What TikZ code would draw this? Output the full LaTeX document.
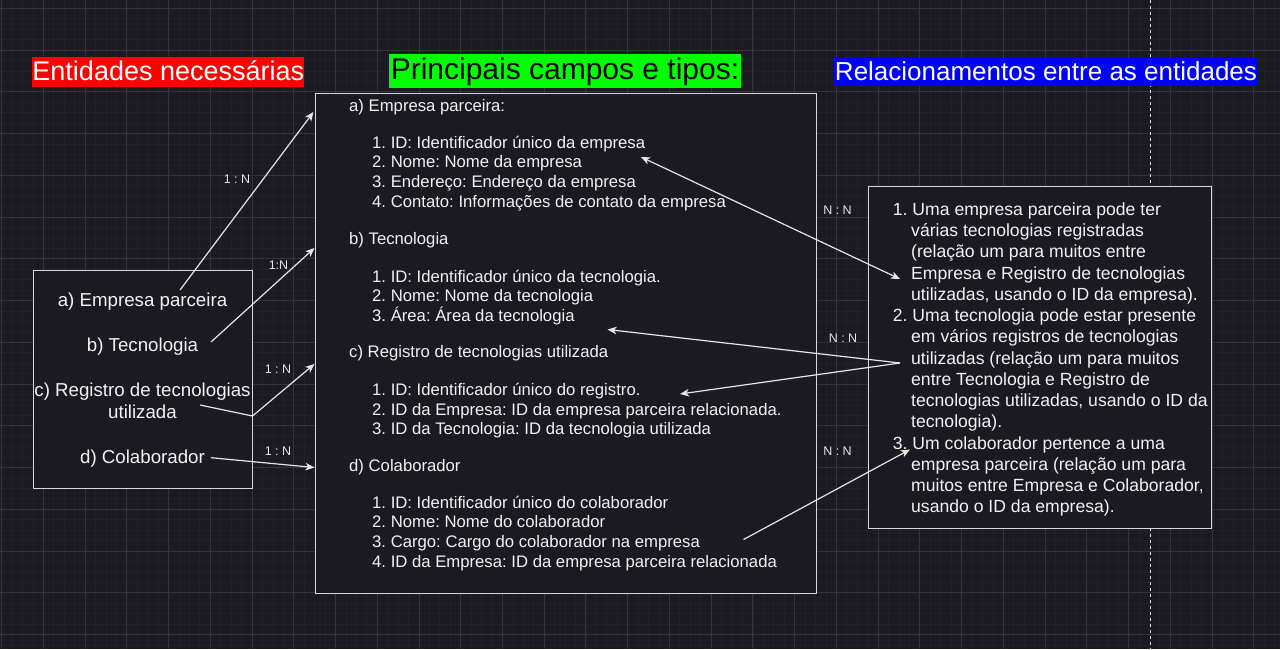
\documentclass[tikz,border=0pt]{standalone}
\usepackage{fontspec}
\setmainfont{Liberation Sans}
\usetikzlibrary{arrows.meta}
\definecolor{bg}{HTML}{1B1921}
\definecolor{gridmin}{HTML}{221F28}
\definecolor{gridmaj}{HTML}{35323C}
\definecolor{fg}{HTML}{F2F2F2}
\definecolor{edgec}{HTML}{D9D9D9}
\definecolor{linec}{HTML}{E6E6E6}
\definecolor{tred}{HTML}{FF0000}
\definecolor{tgreen}{HTML}{00FF00}
\definecolor{tblue}{HTML}{0000FF}
\frenchspacing
\begin{document}
\frenchspacing
\begin{tikzpicture}[x=1pt,y=-1pt,
  box/.style={draw=edgec,fill=bg,line width=1.3pt,inner sep=0pt,anchor=north west},
  mtext/.style={anchor=west,inner sep=0pt,text=fg,font=\fontsize{16.7}{20}\selectfont,text height=14pt,text depth=4pt},
  ltext/.style={anchor=center,inner sep=0pt,text=fg,font=\fontsize{18.7}{22.5}\selectfont,text height=15.7pt,text depth=4.5pt},
  rtext/.style={anchor=west,inner sep=0pt,text=fg,font=\fontsize{17.6}{21}\selectfont,text height=14.8pt,text depth=4.2pt},
  rel/.style={inner sep=0pt,text=linec,font=\fontsize{12.5}{15}\selectfont},
  conn/.style={draw=linec,line width=1.2pt},
  tip/.style={-{Stealth[length=9pt,width=7.5pt,inset=2.5pt]}},
  bitip/.style={{Stealth[length=9pt,width=7.5pt,inset=2.5pt]}-{Stealth[length=9pt,width=7.5pt,inset=2.5pt]}},
  title/.style={inner xsep=0pt,inner ysep=0pt,anchor=center}
]
\useasboundingbox (0,0) rectangle (1280,649);
\fill[bg] (0,0) rectangle (1280,649);
% grid
\foreach \k in {0,...,122} {\draw[gridmin,line width=0.6pt] ({1.5+10.435*\k},0) -- ++(0,649);}
\foreach \k in {-1,...,62} {\draw[gridmin,line width=0.6pt] (0,{8.3+10.435*\k}) -- ++(1280,0);}
\foreach \k in {0,...,30} {\draw[gridmaj,line width=0.8pt] ({1.5+41.74*\k},0) -- ++(0,649);}
\foreach \k in {0,...,15} {\draw[gridmaj,line width=0.8pt] (0,{8.3+41.74*\k}) -- ++(1280,0);}
\draw[edgec!80,line width=0.8pt,dash pattern=on 3pt off 3pt] (1150.5,0) -- (1150.5,649);

% titles
\node[title,fill=tred,text=white,minimum width=272pt,minimum height=29.4pt,
  font=\fontsize{27}{32}\selectfont,text height=23pt,text depth=6pt] (t1) at (168.3,72) {Entidades necessárias};
\node[title,fill=tgreen,text=black,minimum width=352pt,minimum height=34pt,
  font=\fontsize{30}{36}\selectfont,text height=25.5pt,text depth=8pt] (t2) at (565,71) {Principais campos e tipos:};
\node[title,fill=tblue,text=white,minimum width=424pt,minimum height=28pt,
  font=\fontsize{26}{31}\selectfont,text height=22pt,text depth=6pt] (t3) at (1046,72) {Relacionamentos entre as entidades};

% boxes
\node[box,minimum width=219pt,minimum height=218pt] (left) at (33,270) {};
\node[box,minimum width=501pt,minimum height=500pt] (mid) at (315,93) {};
\node[box,minimum width=343pt,minimum height=342pt] (right) at (868,186) {};

% left texts
\node[ltext] (la) at (142.5,300.7) {a) Empresa parceira};
\node[ltext] (lb) at (142.5,345.7) {b) Tecnologia};
\node[ltext] (lc1) at (142.5,390.7) {c) Registro de tecnologias};
\node[ltext] (lc2) at (142.5,413.3) {utilizada};
\node[ltext] (ld) at (142.5,458.3) {d) Colaborador};

% middle texts
\node[mtext] (ma) at (349,106.5) {a) Empresa parceira:};
\node[mtext] (ma1) at (372,143) {1. ID: Identificador único da empresa};
\node[mtext] (ma2) at (372,162.7) {2. Nome: Nome da empresa};
\node[mtext] (ma3) at (372,182.4) {3. Endereço: Endereço da empresa};
\node[mtext] (ma4) at (372,202) {4. Contato: Informações de contato da empresa};
\node[mtext] (mb) at (349,239.5) {b) Tecnologia};
\node[mtext] (mb1) at (372,277) {1. ID: Identificador único da tecnologia.};
\node[mtext] (mb2) at (372,296.5) {2. Nome: Nome da tecnologia};
\node[mtext] (mb3) at (372,316) {3. Área: Área da tecnologia};
\node[mtext] (mc) at (349,352.5) {c) Registro de tecnologias utilizada};
\node[mtext] (mc1) at (372,390) {1. ID: Identificador único do registro.};
\node[mtext] (mc2) at (372,410) {2. ID da Empresa: ID da empresa parceira relacionada.};
\node[mtext] (mc3) at (372,429.5) {3. ID da Tecnologia: ID da tecnologia utilizada};
\node[mtext] (md) at (349,466.5) {d) Colaborador};
\node[mtext] (md1) at (372,503) {1. ID: Identificador único do colaborador};
\node[mtext] (md2) at (372,522.5) {2. Nome: Nome do colaborador};
\node[mtext] (md3) at (372,542) {3. Cargo: Cargo do colaborador na empresa};
\node[mtext] (md4) at (372,562) {4. ID da Empresa: ID da empresa parceira relacionada};

% right texts
\node[rtext] (r1) at (892.7,210) {1. Uma empresa parceira pode ter};
\node[rtext] (r2) at (911,231.25) {várias tecnologias registradas};
\node[rtext] (r3) at (911,252.5) {(relação um para muitos entre};
\node[rtext] (r4) at (911,273.75) {Empresa e Registro de tecnologias};
\node[rtext] (r5) at (911,295) {utilizadas, usando o ID da empresa).};
\node[rtext] (r6) at (892.7,316.25) {2. Uma tecnologia pode estar presente};
\node[rtext] (r7) at (911,337.5) {em vários registros de tecnologias};
\node[rtext] (r8) at (911,358.75) {utilizadas (relação um para muitos};
\node[rtext] (r9) at (911,380) {entre Tecnologia e Registro de};
\node[rtext] (r10) at (911,401.25) {tecnologias utilizadas, usando o ID da};
\node[rtext] (r11) at (911,422.5) {tecnologia).};
\node[rtext] (r12) at (892.7,443.75) {3. Um colaborador pertence a uma};
\node[rtext] (r13) at (911,465) {empresa parceira (relação um para};
\node[rtext] (r14) at (911,486.25) {muitos entre Empresa e Colaborador,};
\node[rtext] (r15) at (911,507.5) {usando o ID da empresa).};

% connector end points
\coordinate (pa) at (180,290);
\coordinate (qa) at (313.5,112);
\coordinate (pb) at (211,342);
\coordinate (qb) at (314.5,248);
\coordinate (pc) at (200,405);
\coordinate (ec) at (252.5,416);
\coordinate (qc) at (314.5,364);
\coordinate (pd) at (211,457.7);
\coordinate (qd) at (314.5,467.5);
\coordinate (n1a) at (641,157);
\coordinate (n1b) at (900,279);
\coordinate (n2) at (900,363);
\coordinate (n2a) at (607.5,329.5);
\coordinate (n2b) at (680,394);
\coordinate (n3a) at (743.5,539.5);
\coordinate (n3b) at (910,449.5);

\draw[conn,tip] (pa) -- (qa);
\draw[conn,tip] (pb) -- (qb);
\draw[conn,tip] (pc) -- (ec) -- (qc);
\draw[conn,tip] (pd) -- (qd);
\draw[conn,bitip] (n1a) -- (n1b);
\draw[conn,tip] (n2) -- (n2a);
\draw[conn,tip] (n2) -- (n2b);
\draw[conn,tip] (n3a) -- (n3b);

% relation labels
\node[rel] (l1) at (237,179) {1 : N};
\node[rel] (l2) at (278.5,265) {1:N};
\node[rel] (l3) at (278,369.5) {1 : N};
\node[rel] (l4) at (278,451) {1 : N};
\node[rel] (l5) at (837.5,210) {N : N};
\node[rel] (l6) at (843,338) {N : N};
\node[rel] (l7) at (837.5,451) {N : N};
\end{tikzpicture}
\end{document}
